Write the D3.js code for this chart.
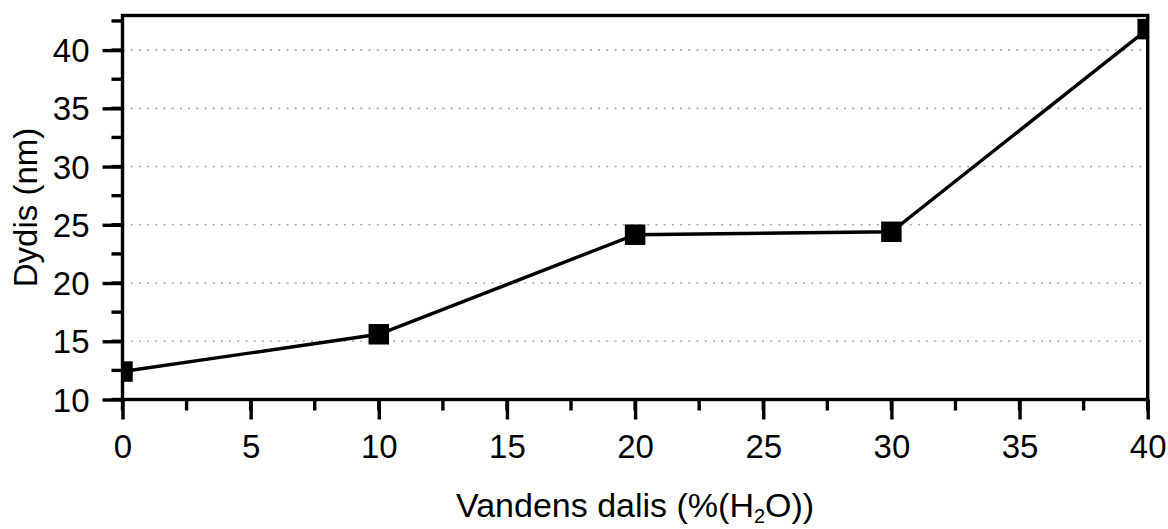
<!DOCTYPE html>
<html>
<head>
<meta charset="utf-8">
<script src="https://cdn.jsdelivr.net/npm/d3@7/dist/d3.min.js"></script>
<style>
  html, body { margin: 0; padding: 0; background: #fff; }
  svg { display: block; font-family: "Liberation Sans", Arial, sans-serif; }
</style>
</head>
<body>
<svg id="chart" width="1168" height="529"></svg>
<script>
// Water fraction (%) and particle size (nm)
const waterPct = [0, 10, 20, 30, 40];
const sizeNm = [12.4, 15.6, 24.15, 24.4, 41.8];
const xTicks = [0, 5, 10, 15, 20, 25, 30, 35, 40];
const yTicks = [10, 15, 20, 25, 30, 35, 40];

const svg = d3.select("#chart");
const margin = { left: 122.5, right: 20.3, top: 15.5, bottom: 129.5 };
const W = 1168, H = 529;
const iw = W - margin.left - margin.right;
const ih = H - margin.top - margin.bottom;
const fontSize = 33;
const sw = 3.4;

const x = d3.scaleLinear().domain([0, 40]).range([0, iw]);
const y = d3.scaleLinear().domain([10, 42.97]).range([ih, 0]);

const g = svg.append("g").attr("transform", `translate(${margin.left},${margin.top})`);

// clip so end markers are cut by the frame
g.append("defs").append("clipPath").attr("id", "plotClip")
  .append("rect").attr("x", 0).attr("y", 0).attr("width", iw).attr("height", ih);

// dotted horizontal grid at major y ticks
g.append("g").selectAll("line").data(yTicks.filter(v => v > 10)).join("line")
  .attr("x1", 0).attr("x2", iw)
  .attr("y1", d => y(d)).attr("y2", d => y(d))
  .attr("stroke", "#a8a8a8").attr("stroke-width", 1.6)
  .attr("stroke-dasharray", "2,6.2");

// data line and markers
const pts = waterPct.map((w, i) => [w, sizeNm[i]]);
const plot = g.append("g").attr("clip-path", "url(#plotClip)");
plot.append("path").datum(pts)
  .attr("fill", "none").attr("stroke", "#000").attr("stroke-width", sw)
  .attr("d", d3.line().x(d => x(d[0])).y(d => y(d[1])));
const ms = 20.5;
plot.selectAll("rect.m").data(pts).join("rect")
  .attr("class", "m")
  .attr("x", d => x(d[0]) - ms / 2).attr("y", d => y(d[1]) - ms / 2)
  .attr("width", ms).attr("height", ms).attr("fill", "#000");

// axes with minor ticks
const xMinor = d3.range(0, 40.01, 2.5);
const yMinor = d3.range(10, 42.6, 2.5);

const xAxis = d3.axisBottom(x).tickValues(xTicks).tickSize(20).tickPadding(15).tickFormat(d3.format("d"));
const yAxis = d3.axisLeft(y).tickValues(yTicks).tickSize(20).tickPadding(13).tickFormat(d3.format("d"));

const xg = g.append("g").attr("transform", `translate(0,${ih})`);
xg.selectAll("line.minor").data(xMinor).join("line").attr("class", "minor")
  .attr("x1", d => x(d)).attr("x2", d => x(d)).attr("y1", 0).attr("y2", 11)
  .attr("stroke", "#000").attr("stroke-width", sw);
xg.call(xAxis);

const yg = g.append("g");
yg.selectAll("line.minor").data(yMinor).join("line").attr("class", "minor")
  .attr("y1", d => y(d)).attr("y2", d => y(d)).attr("x1", 0).attr("x2", -11)
  .attr("stroke", "#000").attr("stroke-width", sw);
yg.call(yAxis);

[xg, yg].forEach(a => {
  a.attr("font-size", fontSize).attr("font-family", "Liberation Sans, Arial, sans-serif");
  a.select(".domain").remove();
  a.selectAll(".tick line").attr("stroke", "#000").attr("stroke-width", sw);
  a.selectAll(".tick text").attr("fill", "#000").attr("font-size", fontSize);
});
yg.selectAll(".tick text").attr("dy", "0.35em");

// frame
g.append("rect").attr("x", 0).attr("y", 0).attr("width", iw).attr("height", ih)
  .attr("fill", "none").attr("stroke", "#000").attr("stroke-width", sw);

// axis titles
const xt = svg.append("text")
  .attr("x", margin.left + iw / 2).attr("y", 517)
  .attr("text-anchor", "middle").attr("font-size", 34).attr("fill", "#000");
xt.append("tspan").text("Vandens dalis (%(H");
xt.append("tspan").attr("font-size", 20).attr("dy", 6).text("2");
xt.append("tspan").attr("dy", -6).text("O))");

svg.append("text")
  .attr("transform", `translate(36.5,${margin.top + ih / 2}) rotate(-90)`)
  .attr("text-anchor", "middle").attr("font-size", fontSize).attr("fill", "#000")
  .text("Dydis (nm)");
</script>
</body>
</html>
